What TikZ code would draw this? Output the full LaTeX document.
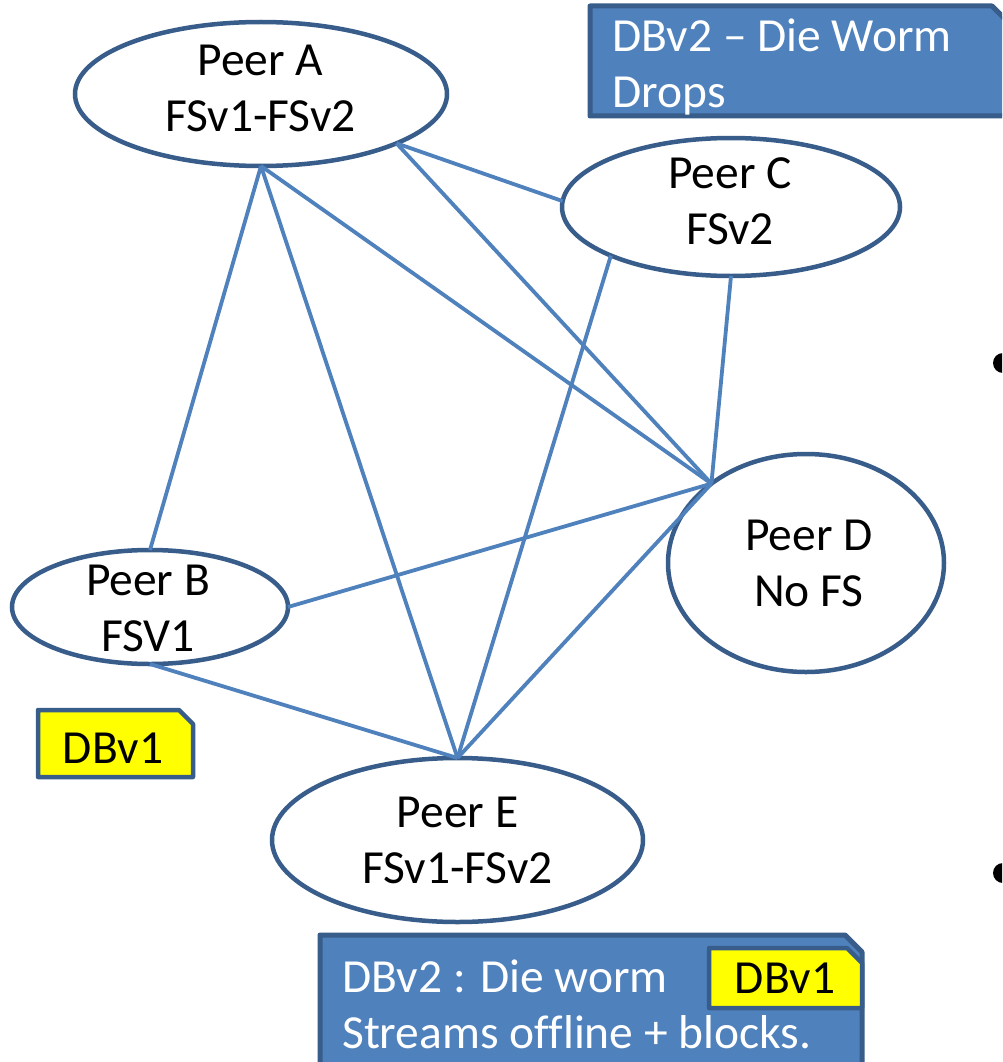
\documentclass[tikz,border=0pt]{standalone}
\usepackage{fontspec}
\setmainfont{Carlito}[Ligatures=NoCommon]
\usetikzlibrary{shapes.geometric}
\definecolor{edgeblue}{HTML}{4F81BD}
\definecolor{rimblue}{HTML}{385D8A}
\definecolor{boxfill}{HTML}{4F81BD}
\definecolor{tagyellow}{HTML}{FFFF00}
\begin{document}
\begin{tikzpicture}[x=1pt,y=-1pt,
  peer/.style={ellipse, draw=rimblue, line width=4.5pt, fill=white, inner sep=0pt, outer sep=0pt},
  lbl/.style={font=\fontsize{47.5}{56}\selectfont, align=center, inner sep=0pt, text=black},
  boxlbl/.style={font=\fontsize{47.5}{56}\selectfont, align=left, inner sep=0pt, text=white, anchor=west},
  taglbl/.style={font=\fontsize{47.5}{56}\selectfont, inner sep=0pt, text=black, anchor=base},
  link/.style={draw=edgeblue, line width=3.8pt},
  infobox/.style={fill=boxfill, draw=rimblue, line width=5pt, line join=round},
  tagbox/.style={fill=tagyellow, draw=rimblue, line width=4.5pt, line join=round}]
\fill[white] (0,0) rectangle (1002,1062);
\path[use as bounding box] (0,0) rectangle (1002,1062);
\clip (0,0) rectangle (1002,1062);

% peers
\node[peer, minimum width=372pt, minimum height=144pt] (A) at (261,94) {};
\node[peer, minimum width=276pt, minimum height=114pt] (B) at (150,607) {};
\node[peer, minimum width=338pt, minimum height=138pt] (C) at (731,207) {};
\node[peer, minimum width=276pt, minimum height=218pt] (D) at (806,563) {};
\node[peer, minimum width=371pt, minimum height=164pt] (E) at (457.5,840) {};

\node[lbl] (Atxt) at (260.5,92.3) {\strut Peer A\\FSv1-FSv2\strut};
\node[lbl] (Btxt) at (148,611.8) {\strut Peer B\\FSV1\strut};
\node[lbl] (Ctxt) at (730,204.8) {\strut Peer C\\FSv2\strut};
\node[lbl] (Dtxt) at (809,566.8) {\strut Peer D\\No FS\strut};
\node[lbl] (Etxt) at (457.5,844.3) {\strut Peer E\\FSv1-FSv2\strut};

% connectors
\path[link] (A.south) -- (B.north);
\path[link] (A.south) -- (E.north);
\path[link] (A.south) -- (D.140);
\path[link] (A.-20) -- (C.178);
\path[link] (A.-20) -- (D.140);
\path[link] (C.202) -- (E.north);
\path[link] (C.south) -- (D.140);
\path[link] (D.140) -- (B.east);
\path[link] (D.140) -- (E.north);
\path[link] (B.south) -- (E.north);

% top info box
\path[infobox] (590,6) -- (992,6) -- (1012,26) -- (1012,116) -- (590,116) -- cycle;
\node[boxlbl] (toptxt) at (612,68.3) {\strut DBv2 – Die Worm\\Drops\strut};

% left tag
\path[tagbox] (38,710) -- (179,710) -- (193,724) -- (193,777) -- (38,777) -- cycle;
\node[taglbl] (tagleft) at (113,763) {DBv1};

% bottom info box
\path[infobox] (320,935) -- (845,935) -- (862,952) -- (862,1075) -- (320,1075) -- cycle;
\node[boxlbl] (bottxt) at (342,1009.3) {\strut DBv2 : Die worm\\Streams offline + blocks.\strut};
\path[tagbox] (709,948) -- (847,948) -- (862,963) -- (862,1008) -- (709,1008) -- cycle;
\node[taglbl] (tagbot) at (785,993) {DBv1};

% bullets
\fill[black] (1003,363) circle[radius=10pt];
\fill[black] (1003,873) circle[radius=10pt];
\end{tikzpicture}
\end{document}
